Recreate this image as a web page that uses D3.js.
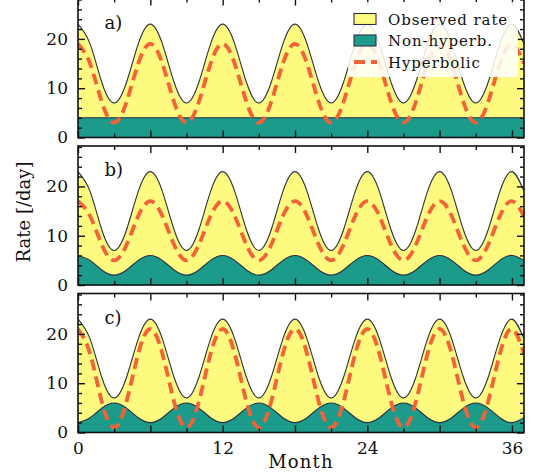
<!DOCTYPE html>
<html>
<head>
<meta charset="utf-8">
<script src="https://cdn.jsdelivr.net/npm/d3@7/dist/d3.min.js"></script>
<style>
  html, body { margin: 0; padding: 0; background: #fff; }
  svg { display: block; }
  text { font-family: "DejaVu Serif", serif; fill: #111; }
</style>
</head>
<body>
<svg id="chart" width="536" height="475"></svg>
<script>
// ---- data ----
const months = [0,1,2,3,4,5,6,7,8,9,10,11,12,13,14,15,16,17,18,19,20,21,22,23,24,25,26,27,28,29,30,31,32,33,34,35,36,37];
const observed = [23,19,11,7,11,19, 23,19,11,7,11,19, 23,19,11,7,11,19, 23,19,11,7,11,19, 23,19,11,7,11,19, 23,19,11,7,11,19, 23,19];
const nonHypA = [4,4,4,4,4,4, 4,4,4,4,4,4, 4,4,4,4,4,4, 4,4,4,4,4,4, 4,4,4,4,4,4, 4,4,4,4,4,4, 4,4];
const hypA    = [19,15,7,3,7,15, 19,15,7,3,7,15, 19,15,7,3,7,15, 19,15,7,3,7,15, 19,15,7,3,7,15, 19,15,7,3,7,15, 19,15];
const nonHypB = [6,5,3,2,3,5, 6,5,3,2,3,5, 6,5,3,2,3,5, 6,5,3,2,3,5, 6,5,3,2,3,5, 6,5,3,2,3,5, 6,5];
const hypB    = [17,14,8,5,8,14, 17,14,8,5,8,14, 17,14,8,5,8,14, 17,14,8,5,8,14, 17,14,8,5,8,14, 17,14,8,5,8,14, 17,14];
const nonHypC = [2,3,5,6,5,3, 2,3,5,6,5,3, 2,3,5,6,5,3, 2,3,5,6,5,3, 2,3,5,6,5,3, 2,3,5,6,5,3, 2,3];
const hypC    = [21,16,6,1,6,16, 21,16,6,1,6,16, 21,16,6,1,6,16, 21,16,6,1,6,16, 21,16,6,1,6,16, 21,16,6,1,6,16, 21,16];
const panelLabels = ["a)", "b)", "c)"];
const legendLabels = ["Observed rate", "Non-hyperb.", "Hyperbolic"];
const xMajorTicks = [0,6,12,18,24,30,36];
const xMinorTicks = [3,9,15,21,27,33];
const xLabelTicks = [0,12,24,36];
const yMajorTicks = [0,10,20];
const yMinorTicks = [2,4,6,8,12,14,16,18,22,24,26,28];

// ---- styles ----
const C_OBS = "#fdfa7f", C_NON = "#1c9a8a", C_HYP = "#f4623a", C_EDGE = "#2b3044";

const svg = d3.select("#chart");
const x = d3.scaleLinear().domain([0, 37]).range([78, 524]);
const panels = [
  {top: -1.5, bottom: 137.5, non: nonHypA, hyp: hypA},
  {top: 146,  bottom: 285,   non: nonHypB, hyp: hypB},
  {top: 293.5, bottom: 432.5, non: nonHypC, hyp: hypC}
];

const defs = svg.append("defs");

panels.forEach((p, i) => {
  const y = d3.scaleLinear().domain([0, 28.2]).range([p.bottom, p.top]);
  const g = svg.append("g");
  const clipId = "clip" + i;
  defs.append("clipPath").attr("id", clipId)
    .append("rect").attr("x", x(0)).attr("y", p.top).attr("width", x(37) - x(0)).attr("height", p.bottom - p.top);
  const plot = g.append("g").attr("clip-path", `url(#${clipId})`);

  const areaOf = vals => d3.area().curve(d3.curveNatural)
    .x((d, k) => x(months[k])).y0(y(0)).y1((d) => y(d))(vals);
  const lineOf = vals => d3.line().curve(d3.curveNatural)
    .x((d, k) => x(months[k])).y(d => y(d))(vals);

  plot.append("path").attr("d", areaOf(observed)).attr("fill", C_OBS).attr("stroke", "none");
  plot.append("path").attr("d", lineOf(observed)).attr("fill", "none").attr("stroke", C_EDGE).attr("stroke-width", 1.1);
  plot.append("path").attr("d", areaOf(p.non)).attr("fill", C_NON).attr("stroke", "none");
  plot.append("path").attr("d", lineOf(p.non)).attr("fill", "none").attr("stroke", C_EDGE).attr("stroke-width", 1.1);
  plot.append("path").attr("d", lineOf(p.hyp)).attr("fill", "none").attr("stroke", C_HYP)
    .attr("stroke-width", 3.8).attr("stroke-dasharray", "11,6");

  // axes (ticks inward on all four sides)
  const mk = (axisFn, scale, vals, size, trans, labelled) => {
    const a = axisFn(scale).tickValues(vals).tickSize(-size).tickPadding(labelled ? 9 : 0)
      .tickFormat(labelled ? labelled : "");
    const ag = g.append("g").attr("transform", trans).call(a);
    ag.select(".domain").remove();
    ag.selectAll(".tick line").attr("stroke", "#111").attr("stroke-width", 1.4);
    ag.selectAll("text").style("font-family", "'DejaVu Serif', serif").style("font-size", "17px").attr("fill", "#111");
    return ag;
  };
  const isLast = i === 2;
  mk(d3.axisBottom, x, xMajorTicks, 7, `translate(0,${p.bottom})`,
     isLast ? (d => xLabelTicks.includes(d) ? d : "") : null);
  mk(d3.axisBottom, x, xMinorTicks, 4, `translate(0,${p.bottom})`, null);
  mk(d3.axisTop, x, xMajorTicks, 7, `translate(0,${p.top})`, null);
  mk(d3.axisTop, x, xMinorTicks, 4, `translate(0,${p.top})`, null);
  const yl = mk(d3.axisLeft, y, yMajorTicks, 7, `translate(${x(0)},0)`, d => d);
  yl.call(a => a.selectAll(".tick text").attr("x", -10));
  mk(d3.axisLeft, y, yMinorTicks, 4, `translate(${x(0)},0)`, null);
  mk(d3.axisRight, y, yMajorTicks, 7, `translate(${x(37)},0)`, null);
  mk(d3.axisRight, y, yMinorTicks, 4, `translate(${x(37)},0)`, null);

  // frame
  g.append("rect").attr("x", x(0)).attr("y", p.top).attr("width", x(37) - x(0)).attr("height", p.bottom - p.top)
    .attr("fill", "none").attr("stroke", "#111").attr("stroke-width", 1.6);

  // panel label
  g.append("text").attr("x", x(2.2)).attr("y", y(22.1)).style("font-size", "18px").text(panelLabels[i]);

  // legend in first panel
  if (i === 0) {
    const lg = g.append("g");
    lg.append("rect").attr("x", 348).attr("y", 2).attr("width", 170).attr("height", 75).attr("rx", 2)
      .attr("fill", "#fff").attr("fill-opacity", 0.86);
    const rows = [19, 40.5, 62];
    lg.append("rect").attr("x", 354).attr("y", rows[0] - 5.5).attr("width", 22).attr("height", 11)
      .attr("fill", C_OBS).attr("stroke", C_EDGE).attr("stroke-width", 1.1);
    lg.append("rect").attr("x", 354).attr("y", rows[1] - 5.5).attr("width", 22).attr("height", 11)
      .attr("fill", C_NON).attr("stroke", C_EDGE).attr("stroke-width", 1.1);
    lg.append("line").attr("x1", 354).attr("x2", 377).attr("y1", rows[2]).attr("y2", rows[2])
      .attr("stroke", C_HYP).attr("stroke-width", 3.8).attr("stroke-dasharray", "11,6");
    legendLabels.forEach((t, k) => {
      lg.append("text").attr("x", 388).attr("y", rows[k] + 5.5)
        .style("font-size", "15px").style("letter-spacing", "0.9px").text(t);
    });
  }
});

// axis titles
svg.append("text").attr("x", x(18.5)).attr("y", 468).attr("text-anchor", "middle")
  .style("font-size", "18px").style("letter-spacing", "1.2px").text("Month");
svg.append("text").attr("transform", "translate(30,212) rotate(-90)").attr("text-anchor", "middle")
  .style("font-size", "18px").text("Rate [/day]");
</script>
</body>
</html>
